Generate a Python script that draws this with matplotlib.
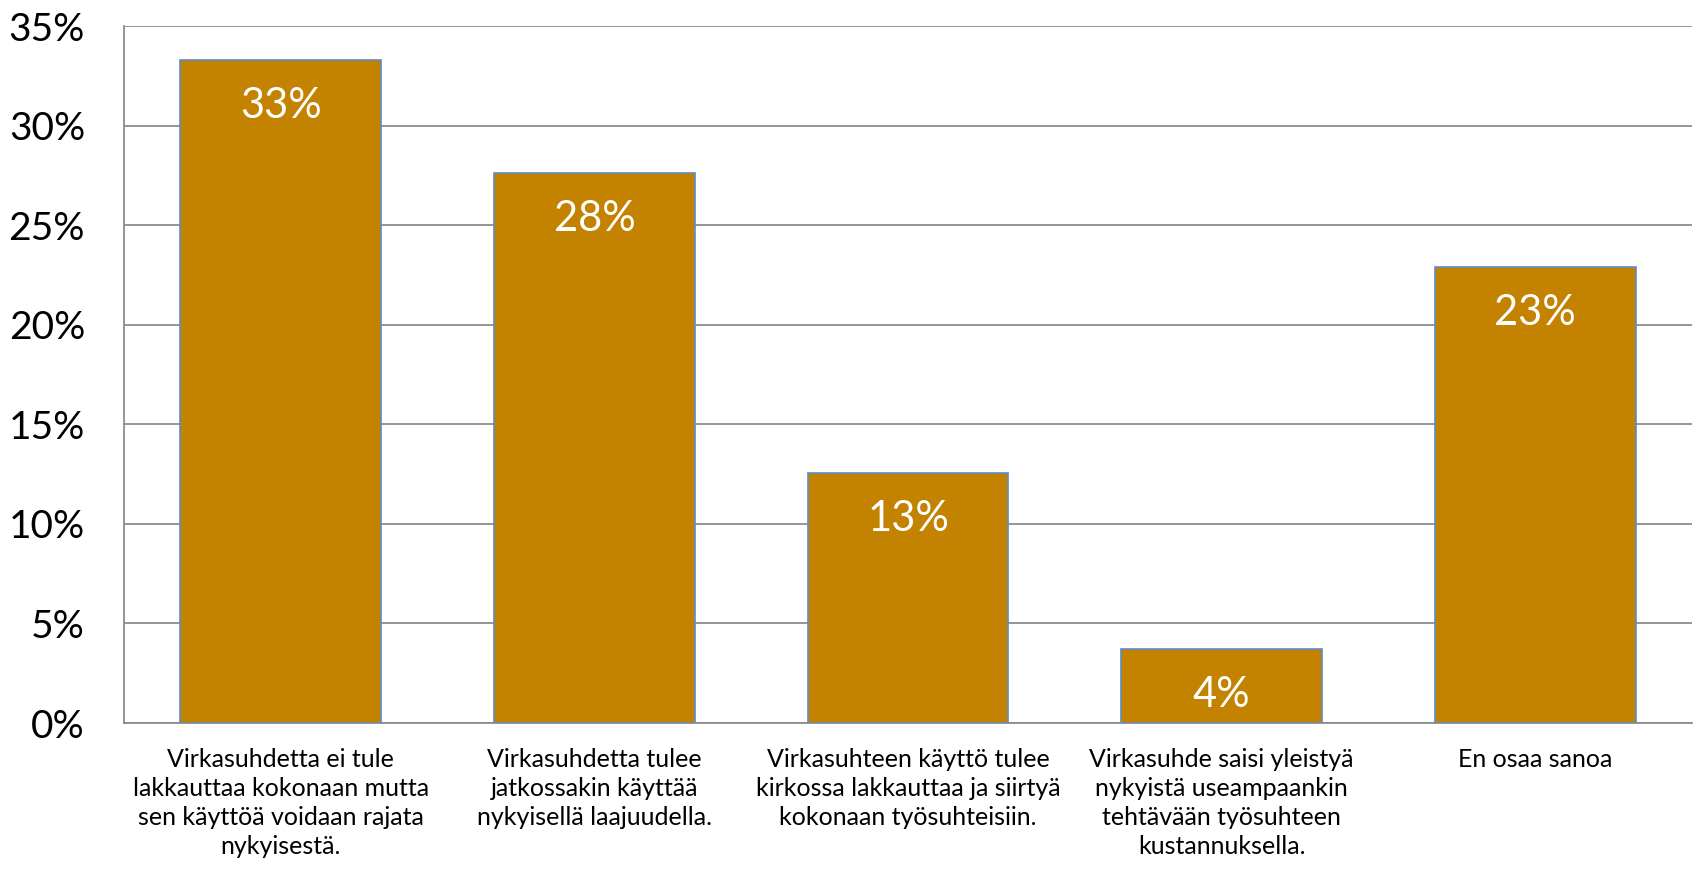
import matplotlib
matplotlib.use("Agg")
import matplotlib.pyplot as plt
from matplotlib.ticker import PercentFormatter

plt.rcParams['font.family'] = ['Lato', 'DejaVu Sans']

# data
categories = [
    "Virkasuhdetta ei tule\nlakkauttaa kokonaan mutta\nsen käyttöä voidaan rajata\nnykyisestä.",
    "Virkasuhdetta tulee\njatkossakin käyttää\nnykyisellä laajuudella.",
    "Virkasuhteen käyttö tulee\nkirkossa lakkauttaa ja siirtyä\nkokonaan työsuhteisiin.",
    "Virkasuhde saisi yleistyä\nnykyistä useampaankin\ntehtävään työsuhteen\nkustannuksella.",
    "En osaa sanoa",
]
values = [33.3, 27.6, 12.55, 3.7, 22.9]
yticks = [0, 5, 10, 15, 20, 25, 30, 35]

fig = plt.figure(figsize=(16.94, 8.69), dpi=100)
ax = fig.add_axes([0.0732, 0.168, 0.9256, 0.802])

x = range(len(categories))
bars = ax.bar(x, values, width=0.64, color='#C38200', edgecolor='#5B8BC9',
              linewidth=1.2, zorder=3)

for b, v in zip(bars, values):
    ax.annotate(f"{int(v + 0.5)}%", (b.get_x() + b.get_width() / 2, v),
                xytext=(0, -33), textcoords='offset points',
                ha='center', va='center', color='white', fontsize=30)

ax.set_xlim(-0.5, len(categories) - 0.5)
ax.set_ylim(0, 35)
ax.set_yticks(yticks)
ax.yaxis.set_major_formatter(PercentFormatter(decimals=0))
ax.grid(axis='y', color='#8C8C8C', linewidth=1.3, zorder=0)
ax.set_xticks(list(x))
ax.set_xticklabels(categories, fontsize=18, linespacing=1.32, va='top')

ax.tick_params(axis='y', length=0, pad=28, labelsize=28)
ax.tick_params(axis='x', length=0, pad=18)

for s in ['top', 'right']:
    ax.spines[s].set_visible(False)
for s in ['left', 'bottom']:
    ax.spines[s].set_color('#8C8C8C')
    ax.spines[s].set_linewidth(1.3)

fig.savefig("out.png", dpi=100)
